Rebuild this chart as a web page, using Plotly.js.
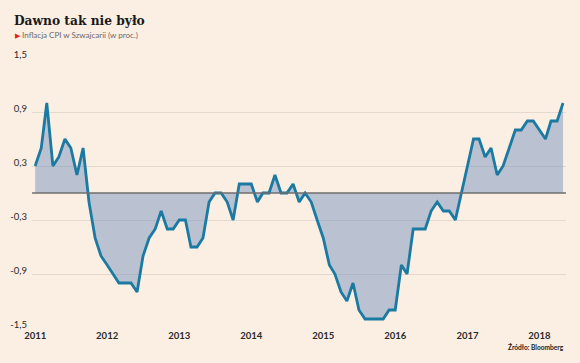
<!DOCTYPE html>
<html>
<head>
<meta charset="utf-8">
<script src="https://cdn.plot.ly/plotly-3.0.1.min.js"></script>
<style>
html,body{margin:0;padding:0;background:#fbeee3;}
#chart{width:580px;height:363px;}
</style>
</head>
<body>
<div id="chart"></div>
<script>
// Monthly CPI inflation in Switzerland (% y/y), Jan 2011 – May 2018
var startYear = 2011;
var cpiValues = [
  0.3, 0.5, 1.0, 0.3, 0.4, 0.6, 0.5, 0.2, 0.5, -0.1, -0.5, -0.7,   // 2011
  -0.8, -0.9, -1.0, -1.0, -1.0, -1.1, -0.7, -0.5, -0.4, -0.2, -0.4, -0.4, // 2012
  -0.3, -0.3, -0.6, -0.6, -0.5, -0.1, 0.0, 0.0, -0.1, -0.3, 0.1, 0.1, // 2013
  0.1, -0.1, 0.0, 0.0, 0.2, 0.0, 0.0, 0.1, -0.1, 0.0, -0.1, -0.3,   // 2014
  -0.5, -0.8, -0.9, -1.1, -1.2, -1.0, -1.3, -1.4, -1.4, -1.4, -1.4, -1.3, // 2015
  -1.3, -0.8, -0.9, -0.4, -0.4, -0.4, -0.2, -0.1, -0.2, -0.2, -0.3, 0.0, // 2016
  0.3, 0.6, 0.6, 0.4, 0.5, 0.2, 0.3, 0.5, 0.7, 0.7, 0.8, 0.8,       // 2017
  0.7, 0.6, 0.8, 0.8, 1.0                                          // 2018
];
var xTickVals = ['2011-01-01','2012-01-01','2013-01-01','2014-01-01','2015-01-01','2016-01-01','2017-01-01','2018-01-01'];
var xTickText = ['2011','2012','2013','2014','2015','2016','2017','2018'];
var yTickVals = [-1.5, -0.9, -0.3, 0.3, 0.9, 1.5];
var yTickText = ['-1,5', '-0,9', '-0,3', '0,3', '0,9', '1,5'];

var months = [];
for (var i = 0; i < cpiValues.length; i++) {
  var y = startYear + Math.floor(i / 12);
  var m = (i % 12) + 1;
  months.push(y + '-' + (m < 10 ? '0' + m : m) + '-01');
}

var L = 32, R = 14, T = 58, B = 35, W = 580 - L - R, H = 363 - T - B;
function px(x) { return (x - L) / W; }
function py(y) { return (363 - B - y) / H; }

var traces = [
  {
    x: months, y: cpiValues, type: 'scatter', mode: 'none',
    fill: 'tozeroy', fillcolor: 'rgba(122,148,192,0.5)', hoverinfo: 'skip'
  },
  {
    x: months, y: cpiValues, type: 'scatter', mode: 'lines',
    line: {color: '#1a7aa2', width: 2.8}
  }
];

var layout = {
  width: 580, height: 363,
  margin: {l: L, r: R, t: T, b: B},
  paper_bgcolor: '#fbeee3', plot_bgcolor: '#fbeee3',
  showlegend: false,
  font: {family: 'Lato, sans-serif', color: '#2a2a2a', size: 9},
  xaxis: {
    type: 'date', range: ['2010-12-16', '2018-05-16'],
    tickvals: xTickVals, ticktext: xTickText,
    showgrid: false, zeroline: false, showline: false, ticks: '',
    tickfont: {family: 'Lato, sans-serif', size: 9.5, color: '#2a2a2a', weight: 'bold'}
  },
  yaxis: {
    range: [-1.5, 1.5], tickvals: yTickVals, ticktext: yTickText,
    showgrid: true, gridcolor: '#e3d9cf', gridwidth: 1,
    zeroline: false, showline: false, ticks: '',
    ticklabelshift: -3, ticklabelstandoff: 4,
    tickfont: {family: 'Lato, sans-serif', size: 9.5, color: '#2a2a2a'}
  },
  shapes: [
    {type: 'line', xref: 'paper', yref: 'y', x0: 0, x1: 1, y0: 0, y1: 0,
     line: {color: '#6e6e6e', width: 1.5}, layer: 'above'}
  ],
  annotations: [
    {text: 'Dawno tak nie było', xref: 'paper', yref: 'paper', x: px(12), y: py(19.5),
     xanchor: 'left', yanchor: 'middle', showarrow: false,
     font: {family: '"DejaVu Serif Condensed", "DejaVu Serif", serif', size: 13.6, color: '#1a1a1a', weight: 'bold'}},
    {text: '<span style="color:#e2231a;font-size:7px">▶</span> Inflacja CPI w Szwajcarii (w proc.)', xref: 'paper', yref: 'paper',
     x: px(13), y: py(34.5), xanchor: 'left', yanchor: 'middle', showarrow: false,
     font: {family: 'Lato, sans-serif', size: 8, color: '#6a6a6a'}},
    {text: 'Źródło: Bloomberg', xref: 'paper', yref: 'paper', x: px(566), y: py(346.5),
     xanchor: 'right', yanchor: 'middle', showarrow: false,
     font: {family: 'Lato, sans-serif', size: 6.6, color: '#1a1a1a', weight: 'bold'}}
  ]
};

Plotly.newPlot('chart', traces, layout, {displayModeBar: false, staticPlot: true});
</script>
</body>
</html>
